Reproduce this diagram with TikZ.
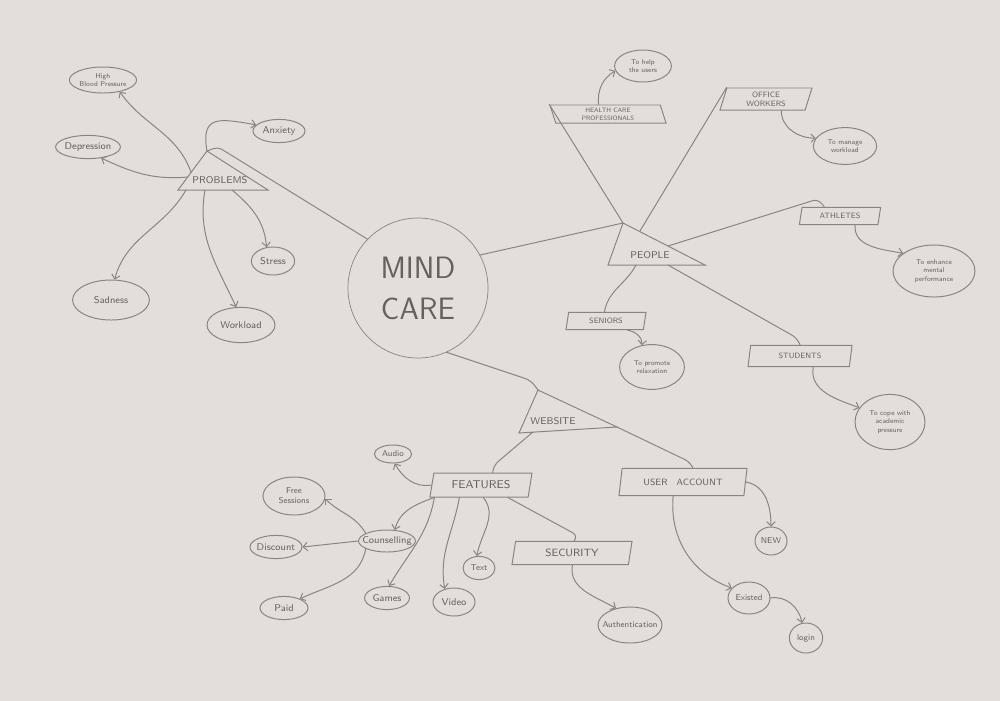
\documentclass[tikz,border=0pt]{standalone}
\usetikzlibrary{shapes.geometric,arrows.meta,calc}

\definecolor{paper}{HTML}{E3DEDC}
\definecolor{pencil}{HTML}{8A8381}
\definecolor{lead}{HTML}{66605E}

\begin{document}
\begin{tikzpicture}[x=0.025cm,y=-0.025cm,line cap=round,>={Straight Barb[length=3pt,width=6pt]},
        every node/.style={text=lead,font=\sffamily},
        bubble/.style={draw=pencil,line width=0.7pt,ellipse,inner xsep=-5pt,inner ysep=-1pt,align=center,
                font=\sffamily\fontsize{7}{8}\selectfont},
        note/.style={bubble,font=\sffamily\fontsize{5}{6}\selectfont},
        slab/.style={draw=pencil,line width=0.7pt,trapezium,trapezium left angle=65,trapezium right angle=115,
                trapezium stretches body,inner sep=0pt,align=center},
        backslab/.style={slab,trapezium left angle=115,trapezium right angle=65},
        link/.style={draw=pencil,line width=0.7pt},
        pointer/.style={link,->}]

        % the sheet of paper
        \useasboundingbox (0,0) rectangle (1000,700);
        \fill[paper] (-10,-10) rectangle (1010,710);

        % the centre
        \node[draw=pencil,line width=0.5pt,circle,minimum size=3.5cm,align=center,
                font=\sffamily\fontsize{22}{29}\selectfont] (mind) at (418,288) {MIND\\CARE};

        % draw the three triangles
        \coordinate (prb-a) at (207,151);
        \coordinate (prb-l) at (178,190);
        \coordinate (prb-r) at (268,190);
        \draw[link] (prb-a) -- (prb-l) -- (prb-r) -- cycle;
        \node[font=\sffamily\fontsize{7}{8}\selectfont] (prb) at (220,180) {PROBLEMS};

        \coordinate (ppl-a) at (623,223);
        \coordinate (ppl-l) at (608,265);
        \coordinate (ppl-r) at (705,265);
        \draw[link] (ppl-a) -- (ppl-l) -- (ppl-r) -- cycle;
        \node[font=\sffamily\fontsize{7}{8}\selectfont] (ppl) at (650,255) {PEOPLE};

        \coordinate (web-a) at (538,390);
        \coordinate (web-l) at (519,433);
        \coordinate (web-r) at (617,427);
        \draw[link] (web-a) -- (web-l) -- (web-r) -- cycle;
        \node[font=\sffamily\fontsize{7}{8}\selectfont] (web) at (553,421) {WEBSITE};

        % points on the triangles where lines leave
        \coordinate (prb-w) at (191,172);
        \coordinate (prb-w2) at (188,177);
        \coordinate (prb-s) at (186,190);
        \coordinate (prb-b) at (205,190);
        \coordinate (prb-c) at (232,190);
        \coordinate (ppl-t) at (640,231);
        \coordinate (ppl-h) at (668,246);
        \coordinate (ppl-s) at (636,265);
        \coordinate (ppl-b) at (668,265);
        \coordinate (web-f) at (533,432);

        % problems
        \node[note,minimum width=1.68cm,minimum height=0.65cm] (hbp) at (103,80) {High\\Blood Pressure};
        \node[bubble,minimum width=1.62cm,minimum height=0.58cm] (dep) at (88,147) {Depression};
        \node[bubble,minimum width=1.3cm,minimum height=0.58cm] (anx) at (279,131) {Anxiety};
        \node[bubble,minimum width=1.08cm,minimum height=0.7cm] (strs) at (273,261) {Stress};
        \node[bubble,minimum width=1.92cm,minimum height=1cm] (sad) at (111,300) {Sadness};
        \node[bubble,minimum width=1.7cm,minimum height=0.88cm] (wkl) at (241,325) {Workload};

        % people
        \node[backslab,minimum width=2.9cm,minimum height=0.45cm,font=\sffamily\fontsize{4.5}{5.5}\selectfont]
                (hcp) at (608,114) {HEALTH CARE\\PROFESSIONALS};
        \node[note,minimum width=1.42cm,minimum height=0.8cm] (help) at (643,66) {To help\\the users};
        \node[slab,minimum width=2.3cm,minimum height=0.55cm,font=\sffamily\fontsize{5.5}{6.5}\selectfont]
                (off) at (766,99) {OFFICE\\WORKERS};
        \node[note,minimum width=1.58cm,minimum height=0.92cm] (mng) at (845,146) {To manage\\workload};
        \node[slab,minimum width=2.03cm,minimum height=0.43cm,font=\sffamily\fontsize{5.5}{6.5}\selectfont]
                (ath) at (840,216) {ATHLETES};
        \node[note,minimum width=2.05cm,minimum height=1.3cm] (enh) at (934,271) {To enhance\\mental\\performance};
        \node[slab,minimum width=2cm,minimum height=0.43cm,font=\sffamily\fontsize{5.5}{6.5}\selectfont]
                (sen) at (606,321) {SENIORS};
        \node[note,minimum width=1.62cm,minimum height=1.12cm] (rlx) at (652,367) {To promote\\relaxation};
        \node[slab,minimum width=2.6cm,minimum height=0.53cm,font=\sffamily\fontsize{5.5}{6.5}\selectfont]
                (stu) at (800,356) {STUDENTS};
        \node[note,minimum width=1.75cm,minimum height=1.38cm] (cope) at (890,422) {To cope with\\academic\\pressure};

        % website
        \node[slab,minimum width=2.55cm,minimum height=0.6cm,font=\sffamily\fontsize{8}{9}\selectfont]
                (feat) at (481,485) {FEATURES};
        \node[slab,minimum width=3.2cm,minimum height=0.68cm,font=\sffamily\fontsize{6.5}{7.5}\selectfont]
                (usr) at (683,482) {USER\quad ACCOUNT};
        \node[slab,minimum width=3cm,minimum height=0.58cm,font=\sffamily\fontsize{7.5}{8.5}\selectfont]
                (sec) at (572,553) {SECURITY};
        \node[bubble,minimum width=0.93cm,minimum height=0.45cm,font=\sffamily\fontsize{6}{7}\selectfont]
                (aud) at (393,454) {Audio};
        \node[bubble,minimum width=1.55cm,minimum height=0.95cm,font=\sffamily\fontsize{6}{7}\selectfont]
                (free) at (294,496) {Free\\Sessions};
        \node[bubble,minimum width=1.42cm,minimum height=0.55cm] (cns) at (387,541) {Counselling};
        \node[bubble,minimum width=1.3cm,minimum height=0.58cm] (dsc) at (276,547) {Discount};
        \node[bubble,minimum width=1.2cm,minimum height=0.58cm] (paid) at (284,608) {Paid};
        \node[bubble,minimum width=1.12cm,minimum height=0.58cm] (gms) at (387,598) {Games};
        \node[bubble,minimum width=1.05cm,minimum height=0.7cm] (vid) at (454,602) {Video};
        \node[bubble,minimum width=0.8cm,minimum height=0.58cm,font=\sffamily\fontsize{6}{7}\selectfont]
                (txt) at (479,568) {Text};
        \node[bubble,minimum width=1.6cm,minimum height=0.9cm,font=\sffamily\fontsize{6}{7}\selectfont]
                (auth) at (630,625) {Authentication};
        \node[bubble,minimum width=0.8cm,minimum height=0.7cm,font=\sffamily\fontsize{6}{7}\selectfont]
                (new) at (771,541) {NEW};
        \node[bubble,minimum width=1.05cm,minimum height=0.8cm,font=\sffamily\fontsize{6}{7}\selectfont]
                (ext) at (749,598) {Existed};
        \node[bubble,minimum width=0.83cm,minimum height=0.75cm,font=\sffamily\fontsize{6}{7}\selectfont]
                (lgn) at (806,638) {login};

        % lines from the centre
        \draw[link,rounded corners=3pt] (mind.136) -- ($(prb-a)+(11,-4)$) -- (prb-a);
        \draw[link] (mind.28) -- (ppl-a);
        \draw[link,rounded corners=4pt] (mind.-66) -- +(84,28) -- (web-a);

        % people branches
        \draw[link] (hcp.top left corner) -- (ppl-a);
        \draw[link] (off.top left corner) -- (ppl-t);
        \draw[link,rounded corners=4pt] (ppl-h) -- +(150,-47) -- (ath.150);
        \draw[link] (ppl-s) to[out=-118,in=80] (sen.100);
        \draw[link,rounded corners=4pt] (ppl-b) -- +(129,73) -- (stu.north);

        % website branches
        \draw[link,rounded corners=4pt] (web-f) -- +(-39,33) -- (feat.47);
        \draw[link,rounded corners=4pt] (web-r) -- +(73,35) -- (usr.55);
        \draw[link,rounded corners=4pt] (feat.-25) -- +(70,38) -- (sec.80);

        % problems arrows
        \draw[pointer] (prb-w) to[out=110,in=-55] (hbp.-35);
        \draw[pointer] (prb-w2) to[out=185,in=-25] (dep.-40);
        \draw[pointer] (prb-a) to[out=100,in=170,looseness=1.7] (anx.165);
        \draw[pointer] (prb-s) to[out=-120,in=75] (sad.80);
        \draw[pointer] (prb-b) to[out=-100,in=115] (wkl.105);
        \draw[pointer] (prb-c) to[out=-40,in=95] (strs.115);

        % people arrows
        \draw[pointer] (hcp.135) to[out=95,in=210] (help.190);
        \draw[pointer] (off.-37) to[out=-90,in=180] (mng.165);
        \draw[pointer] (ath.-31) to[out=-95,in=170] (enh.150);
        \draw[pointer] (sen.-23) to[out=-10,in=85] (rlx.115);
        \draw[pointer] (stu.-40) to[out=-100,in=160] (cope.155);

        % features arrows
        \draw[pointer] (feat.west) to[out=190,in=-60] (aud.-80);
        \draw[pointer] (feat.195) to[out=200,in=75] (cns.55);
        \draw[pointer] (feat.-165) to[out=-100,in=60] (gms.80);
        \draw[pointer] (feat.-150) to[out=-100,in=100] (vid.125);
        \draw[pointer] (feat.-80) to[out=-50,in=80] (txt.100);
        \draw[pointer] (cns.160) to[out=120,in=-45] (free.-5);
        \draw[pointer] (cns.west) -- (dsc.east);
        \draw[pointer] (cns.200) to[out=-100,in=25] (paid.30);

        % security and account arrows
        \draw[pointer] (sec.-88) to[out=-100,in=150] (auth.130);
        \draw[pointer] (usr.east) to[out=-10,in=90] (new.north);
        \draw[pointer] (usr.-125) to[out=-95,in=160] (ext.150);
        \draw[pointer] (ext.east) to[out=10,in=100] (lgn.105);

\end{tikzpicture}
\end{document}
